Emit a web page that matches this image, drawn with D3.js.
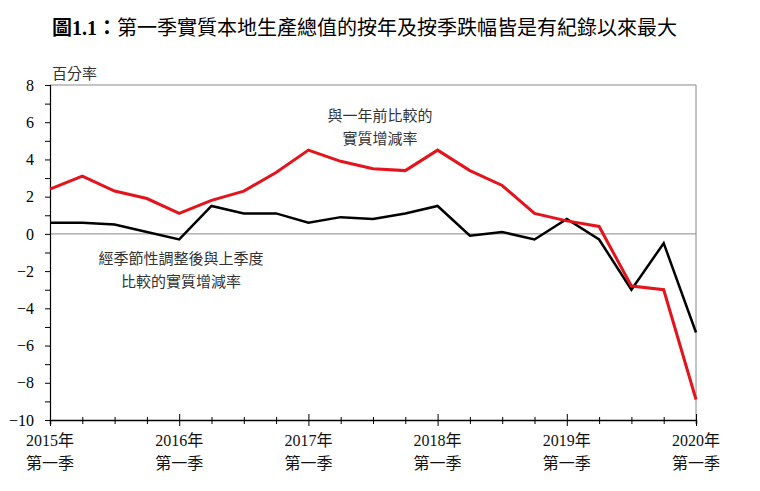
<!DOCTYPE html>
<html><head><meta charset="utf-8">
<script src="https://cdn.jsdelivr.net/npm/d3@7/dist/d3.min.js"></script>
<style>
body{margin:0;background:#fff;}
text{font-family:"Liberation Serif","Noto Sans CJK TC",serif;}
</style></head>
<body><svg id="c" width="760" height="491"></svg>
<script>
const quarters = ["2015Q1","2015Q2","2015Q3","2015Q4","2016Q1","2016Q2","2016Q3","2016Q4","2017Q1","2017Q2","2017Q3","2017Q4","2018Q1","2018Q2","2018Q3","2018Q4","2019Q1","2019Q2","2019Q3","2019Q4","2020Q1"];
const yoy = [2.4,3.1,2.3,1.9,1.1,1.8,2.3,3.3,4.5,3.9,3.5,3.4,4.5,3.4,2.6,1.1,0.7,0.4,-2.8,-3.0,-8.9];
const qoq = [0.6,0.6,0.5,0.1,-0.3,1.5,1.1,1.1,0.6,0.9,0.8,1.1,1.5,-0.1,0.1,-0.3,0.8,-0.3,-3.0,-0.5,-5.3];
const yearLabels = ["2015年","2016年","2017年","2018年","2019年","2020年"];
const quarterLabel = "第一季";
const yTicks = [-10,-8,-6,-4,-2,0,2,4,6,8];
const title = "圖1.1：第一季實質本地生產總值的按年及按季跌幅皆是有紀錄以來最大";

const svg = d3.select("#c");
const L=50,R=696,T=85,B=420;
const x = d3.scaleLinear().domain([0,quarters.length-1]).range([L,R]);
const y = d3.scaleLinear().domain([-10,8]).range([B,T]);

// title
const tt = svg.append("text").attr("x",52).attr("y",35).attr("font-size",20).attr("font-weight","bold").attr("fill","#000");
tt.append("tspan").text(title.slice(0,5));
tt.append("tspan").attr("font-weight","normal").text(title.slice(5));

// frame
svg.append("line").attr("x1",L).attr("x2",R).attr("y1",T).attr("y2",T).attr("stroke","#888").attr("stroke-width",1);
svg.append("line").attr("x1",R).attr("x2",R).attr("y1",T).attr("y2",B).attr("stroke","#888").attr("stroke-width",1);
svg.append("line").attr("x1",L).attr("x2",R).attr("y1",y(0)).attr("y2",y(0)).attr("stroke","#888").attr("stroke-width",1);

// y axis
const yMinor = d3.range(-9,8,2);
const ya = svg.append("g").attr("transform",`translate(${L},0)`);
ya.call(d3.axisLeft(y).tickValues(yTicks).tickSize(5).tickFormat(d3.format("d")));
ya.select(".domain").attr("stroke","#000").attr("stroke-width",1.2);
ya.selectAll(".tick text").attr("font-size",16).attr("fill","#000").attr("x",-16);
ya.selectAll(".tick line").attr("stroke","#000");
const yb = svg.append("g").attr("transform",`translate(${L},0)`);
yb.call(d3.axisLeft(y).tickValues(yMinor).tickSize(5).tickFormat(""));
yb.select(".domain").remove();

// x axis
const xa = svg.append("g").attr("transform",`translate(0,${B})`);
xa.call(d3.axisBottom(x).tickValues(d3.range(0,quarters.length)).tickSize(4).tickFormat(""));
xa.select(".domain").attr("stroke","#000").attr("stroke-width",1.5);
xa.selectAll(".tick line").attr("y1",-3).attr("y2",4).attr("stroke","#000");
const majorIdx = d3.range(0,quarters.length,4);
xa.selectAll(".tick").filter(d=>d%4===0).select("line").attr("y1",-6).attr("y2",6);
majorIdx.forEach((qi,i)=>{
  svg.append("text").attr("x",x(qi)).attr("y",B+26).attr("text-anchor","middle").attr("font-size",16).attr("fill","#111").text(yearLabels[i]);
  svg.append("text").attr("x",x(qi)).attr("y",B+49).attr("text-anchor","middle").attr("font-size",16).attr("fill","#111").text(quarterLabel);
});

// axis unit label
svg.append("text").attr("x",52).attr("y",79).attr("font-size",15).attr("fill","#333").text("百分率");

// lines
const line = d3.line().x((d,i)=>x(i)).y(d=>y(d));
svg.append("path").datum(qoq).attr("d",line).attr("fill","none").attr("stroke","#000").attr("stroke-width",2.5).attr("stroke-linejoin","miter");
svg.append("path").datum(yoy).attr("d",line).attr("fill","none").attr("stroke","#e3141c").attr("stroke-width",3).attr("stroke-linejoin","miter");

// annotations
const ann = (cx,cy,lines)=>lines.forEach((t,i)=>svg.append("text").attr("x",cx).attr("y",cy+i*23).attr("text-anchor","middle").attr("font-size",15).attr("fill","#333").text(t));
ann(380,121,["與一年前比較的","實質增減率"]);
ann(181,264,["經季節性調整後與上季度","比較的實質增減率"]);
</script></body></html>
